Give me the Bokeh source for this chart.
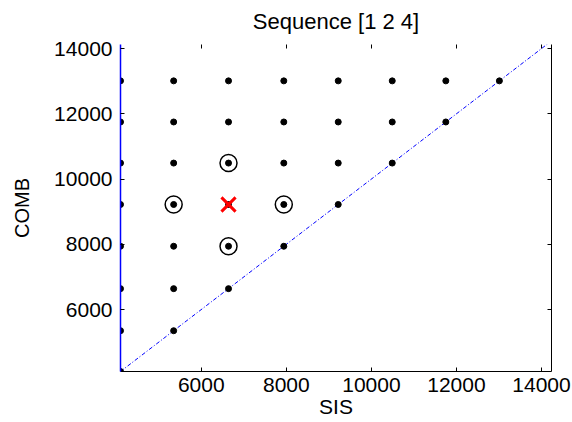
from bokeh.plotting import figure
from bokeh.models import LinearAxis, Range1d, FixedTicker, CustomLabelingPolicy
from bokeh.embed import file_html
from bokeh.resources import INLINE

# grid of candidate values (same on both axes)
grid_vals = [4100, 5350, 6640, 7940, 9220, 10490, 11750, 13010]
# neighbours that were evaluated (circled)
circle_x = [6640, 5350, 7940, 6640]
circle_y = [10490, 9220, 9220, 7940]
# current best point
best_x = [6640]
best_y = [9220]
tick_vals = [6000, 8000, 10000, 12000, 14000]
diag = [4100, 14400]

FONT = "Liberation Sans"

p = figure(width=572, height=422, output_backend="svg", toolbar_location=None,
           x_range=Range1d(4100, 14235), y_range=Range1d(4100, 14125),
           title="Sequence [1 2 4]",
           min_border_left=120, min_border_right=21,
           min_border_top=42, min_border_bottom=51)
p.grid.visible = False
p.outline_line_color = None
p.background_fill_color = "white"
p.border_fill_color = "white"

p.title.align = "center"
p.title.text_font = FONT
p.title.text_font_size = "22px"
p.title.text_font_style = "normal"
p.title.text_color = "black"
p.title.standoff = 13

for ax in (p.xaxis[0], p.yaxis[0]):
    ax.ticker = FixedTicker(ticks=tick_vals)
    ax.major_tick_in = 4
    ax.major_tick_out = 0
    ax.minor_tick_line_color = None
    ax.major_label_text_font = FONT
    ax.major_label_text_font_size = "21px"
    ax.major_label_text_color = "black"
    ax.axis_label_text_font = FONT
    ax.axis_label_text_font_size = "21px"
    ax.axis_label_text_font_style = "normal"
    ax.axis_label_text_color = "black"
    ax.major_tick_line_color = "black"
    ax.axis_label_standoff = 0
    ax.major_label_standoff = 6

p.xaxis.axis_label = "SIS"
p.yaxis.axis_label = "COMB"
p.yaxis.axis_label_text_font_size = "20px"
p.xaxis.axis_line_color = "black"
p.yaxis.axis_line_color = "blue"
p.yaxis.axis_line_width = 1.5
p.yaxis.major_label_standoff = 8
p.yaxis.axis_label_standoff = 18

hide_labels = CustomLabelingPolicy(code="""
const all = Array.from(indices);
for (const i of all) indices.unset(i);
return indices;
""")

top = LinearAxis(ticker=FixedTicker(ticks=tick_vals), major_label_policy=hide_labels,
                 axis_line_color=None, major_tick_in=4, major_tick_out=0,
                 minor_tick_line_color=None, major_label_standoff=0,
                 major_label_text_font_size="1px")
right = LinearAxis(ticker=FixedTicker(ticks=tick_vals), major_label_policy=hide_labels,
                   axis_line_color="black", major_tick_in=4, major_tick_out=0,
                   minor_tick_line_color=None, major_label_standoff=0,
                   major_label_text_font_size="1px")
p.add_layout(top, "above")
p.add_layout(right, "right")

# diagonal y = x
p.line(diag, diag, line_color="blue", line_width=1, line_dash="4 2 1 2")

# evaluated grid points: upper triangle (y >= x)
px, py = [], []
for j, yv in enumerate(grid_vals):
    for i in range(j + 1):
        px.append(grid_vals[i])
        py.append(yv)
p.scatter(px, py, size=6, color="black")

p.scatter(circle_x, circle_y, size=17, fill_color=None, line_color="black", line_width=1.5)
p.scatter(best_x, best_y, marker="x", size=20, line_color="red", line_width=3)

open("out.html", "w").write(file_html(p, INLINE))
